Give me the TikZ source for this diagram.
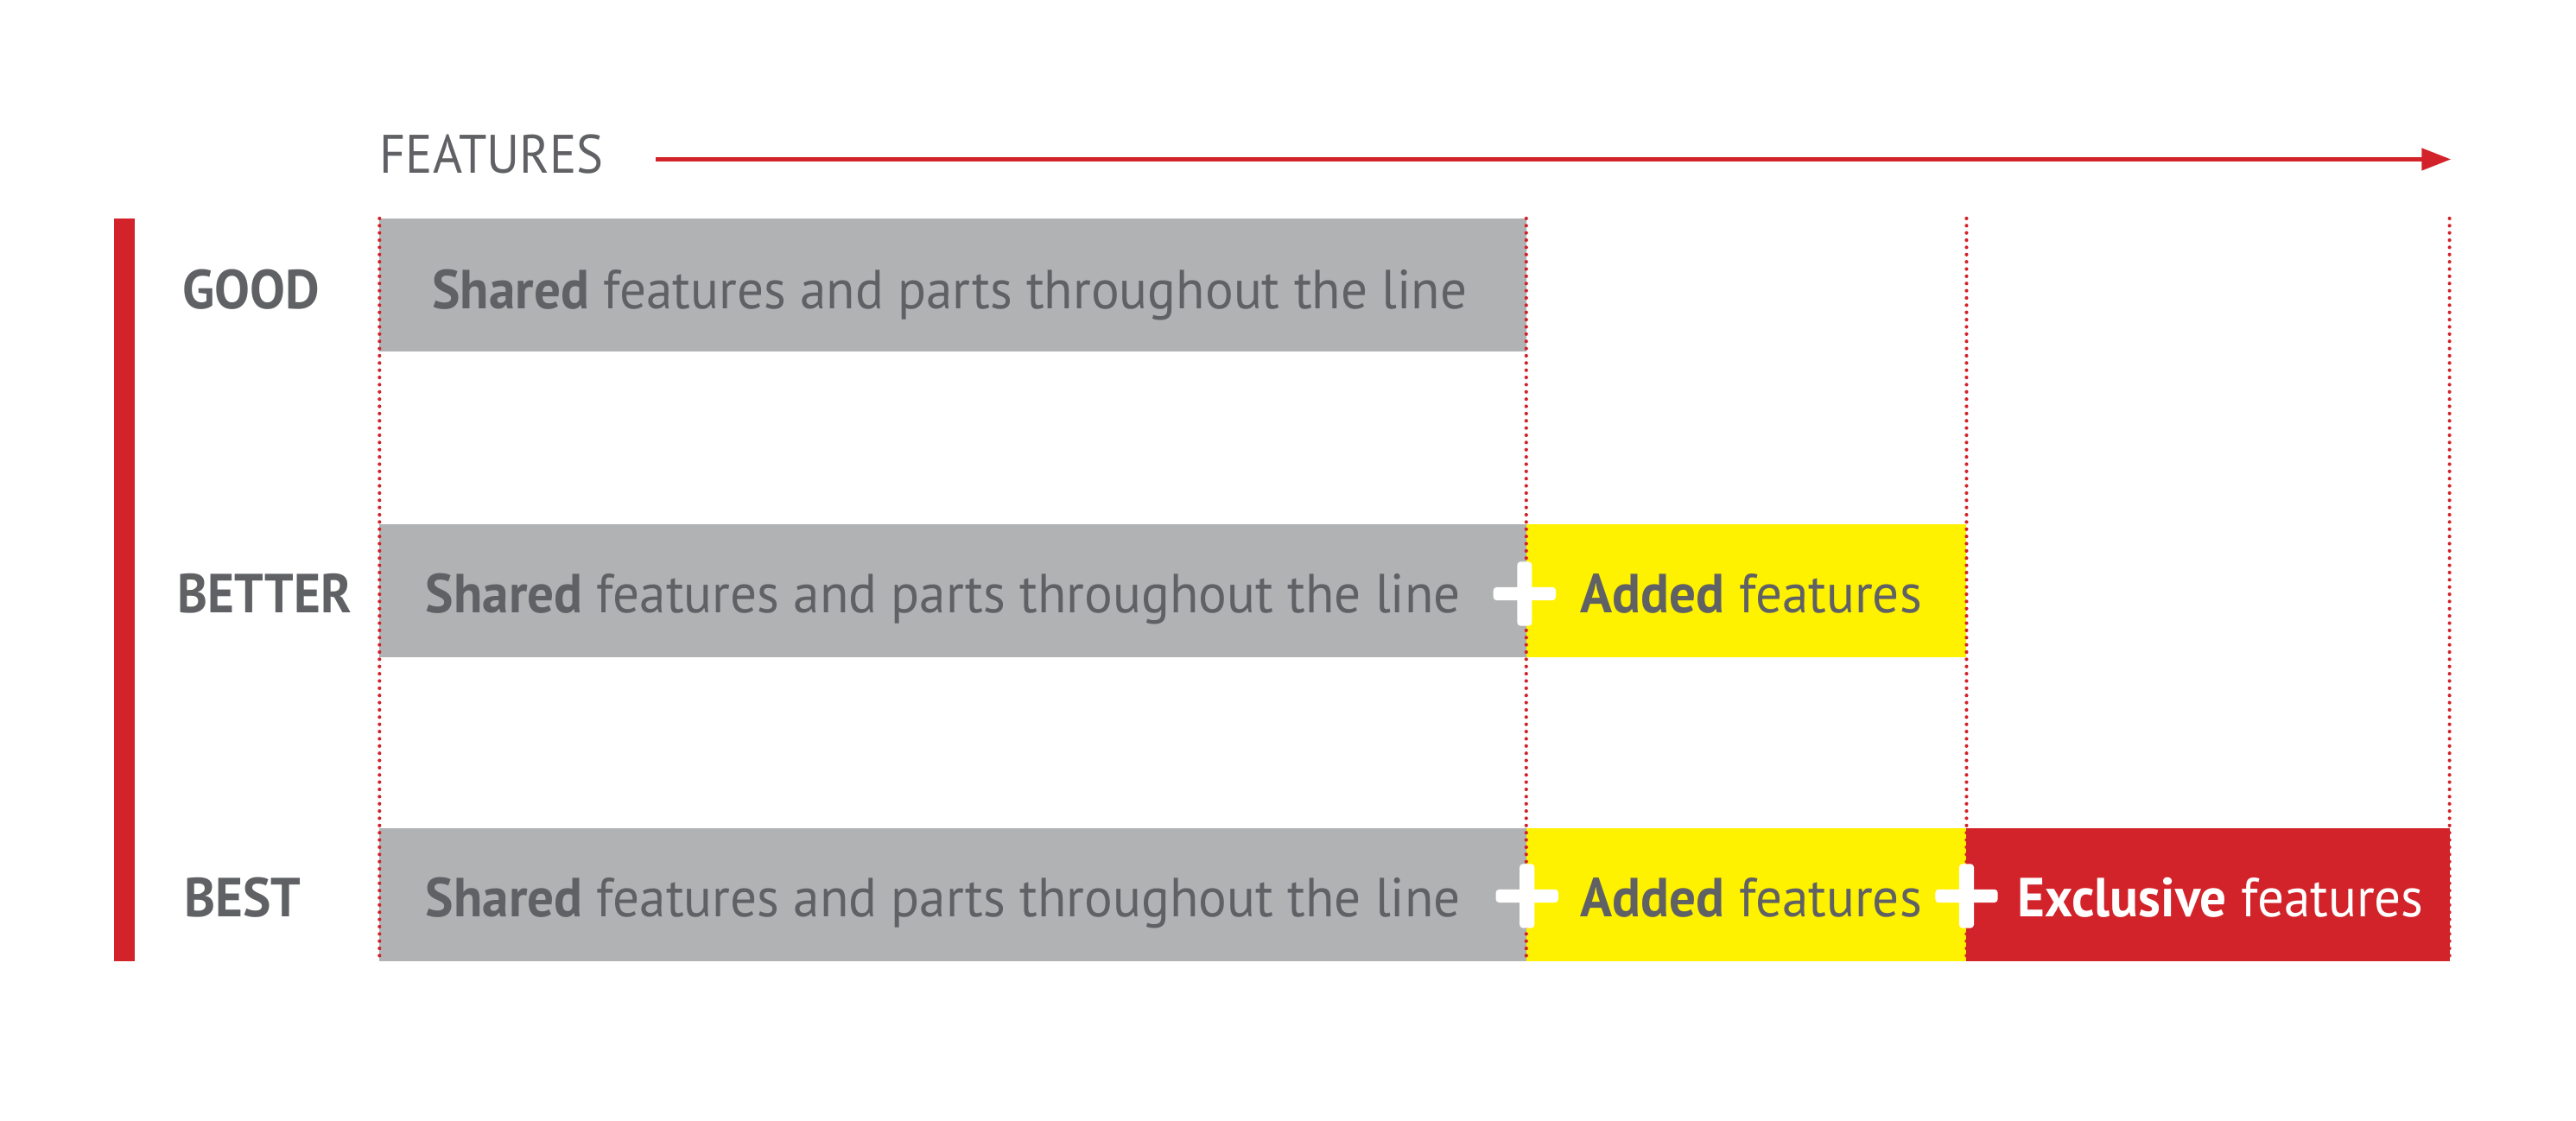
\documentclass[tikz,border=0pt]{standalone}
\usepackage{fontspec}
\setmainfont{PT Sans}[FakeStretch=0.96]
\newfontfamily\lblfont{PT Sans}[FakeStretch=0.93]
\usetikzlibrary{arrows.meta}
\definecolor{rred}{HTML}{D2232A}
\definecolor{rgray}{HTML}{B1B2B4}
\definecolor{ryel}{HTML}{FFF200}
\definecolor{rtext}{HTML}{606164}
\tikzset{
  boxbase/.style={inner sep=0pt, outer sep=0pt, minimum height=81pt, anchor=north west},
  graybox/.style={boxbase, fill=rgray, minimum width=698pt},
  yelbox/.style={boxbase, fill=ryel, minimum width=268pt},
  redbox/.style={boxbase, fill=rred, minimum width=294pt},
  txt/.style={inner sep=0pt, anchor=base west, text=rtext, font=\fontsize{33.5}{40}\selectfont},
  wtxt/.style={txt, text=white},
  lbl/.style={inner sep=0pt, anchor=base west, text=rtext, font=\fontsize{33.5}{40}\selectfont\bfseries},
  dotline/.style={draw=rred, line width=2.2pt, line cap=round, dash pattern=on 0pt off 4.4pt},
  plusbar/.style={fill=white, rounded corners=2pt},
}
\begin{document}
\begin{tikzpicture}[x=1pt, y=-1pt]
\useasboundingbox (0,0) rectangle (1568,682);
% header
\node[txt, font=\lblfont\fontsize{33}{40}\selectfont] (feat) at (231,105.5) {FEATURES};
\coordinate (as) at (399,97);
\coordinate (ae) at (1492,97);
\draw[rred, line width=3pt, -{Triangle[length=18pt,width=13pt]}] (as) -- (ae);
% left bar
\node[fill=rred, inner sep=0pt, minimum width=13pt, minimum height=452pt, anchor=north west] (bar) at (69,133) {};
% boxes
\node[graybox] (g1) at (231,133) {};
\node[graybox] (g2) at (231,319) {};
\node[yelbox]  (y2) at (929,319) {};
\node[graybox] (g3) at (231,504) {};
\node[yelbox]  (y3) at (929,504) {};
\node[redbox]  (r3) at (1197,504) {};
% dotted guide lines
\foreach \x/\n in {231/a,929/b,1197/c,1491/d}{
  \coordinate (t\n) at (\x,133);
  \coordinate (b\n) at (\x,585);
  \draw[dotline] (t\n) -- (b\n);
}
% labels
\node[lbl] (good) at (111,188) {GOOD};
\node[lbl, font=\lblfont\fontsize{33.5}{40}\selectfont\bfseries] (better) at (108,373) {BETTER};
\node[lbl] (best) at (112,558) {BEST};
% texts
\node[txt] (s1) at (263,188) {\textbf{Shared} features and parts throughout the line};
\node[txt] (s2) at (259,373) {\textbf{Shared} features and parts throughout the line};
\node[txt] (s3) at (259,558) {\textbf{Shared} features and parts throughout the line};
\node[txt] (a2) at (962,373) {\textbf{Added} features};
\node[txt] (a3) at (962,558) {\textbf{Added} features};
\node[wtxt] (e3) at (1228,558) {\textbf{Exclusive} features};
% plus signs
\foreach \cx/\cy in {928/361.5, 929.5/545.5, 1197/545.5}{
  \fill[plusbar] (\cx-4.5,\cy-19.5) rectangle (\cx+4.5,\cy+19.5);
  \fill[plusbar] (\cx-19,\cy-4) rectangle (\cx+19,\cy+4);
}
\end{tikzpicture}
\end{document}
